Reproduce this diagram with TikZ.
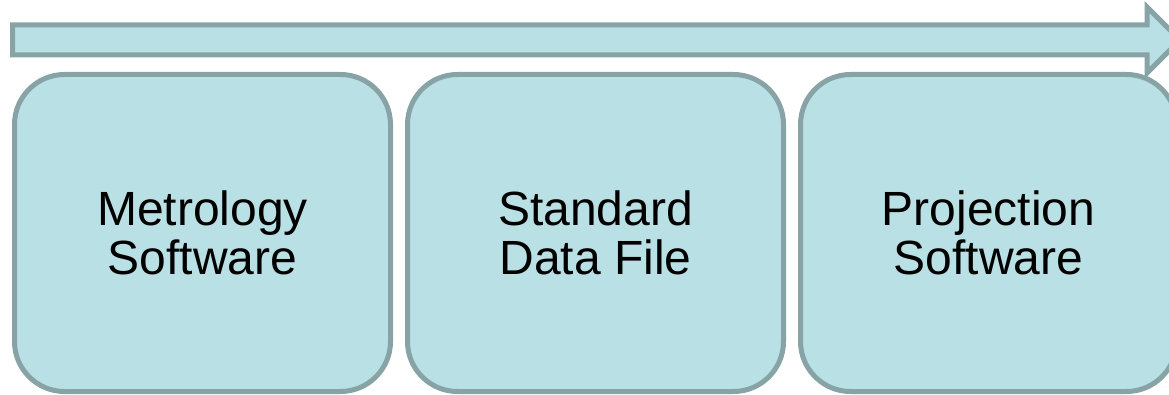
\documentclass[tikz,border=0pt]{standalone}
\usepackage{fontspec}
\setmainfont{Liberation Sans}
\usepackage{tikz}
\usetikzlibrary{positioning}
\definecolor{stagefill}{RGB}{185,224,228}
\definecolor{stageline}{RGB}{136,163,166}
\tikzset{
  stagebox/.style={draw=stageline, fill=stagefill, line width=5pt, rounded corners=50pt,
    minimum width=376pt, minimum height=317pt, align=center, inner sep=0pt, outer sep=0pt,
    font=\fontsize{48}{49}\selectfont},
  flowarrow/.style={draw=stageline, fill=stagefill, line width=5pt, line join=miter}
}

\begin{document}
\begin{tikzpicture}[x=1pt, y=-1pt]
    \useasboundingbox (0,0) rectangle (1169,395);
    % arrow
    \draw[flowarrow] (12.5,25) -- (1147,25) -- (1147,7) -- (1180,40) -- (1147,73) -- (1147,55) -- (12.5,55) -- cycle;
    % stages
    \node[stagebox] (metro) at (202.5,233) {Metrology\\Software};
    \node[stagebox, right=17pt of metro] (datafile) {Standard\\Data File};
    \node[stagebox, right=17pt of datafile] (projsoft) {Projection\\Software};
\end{tikzpicture}
\end{document}
